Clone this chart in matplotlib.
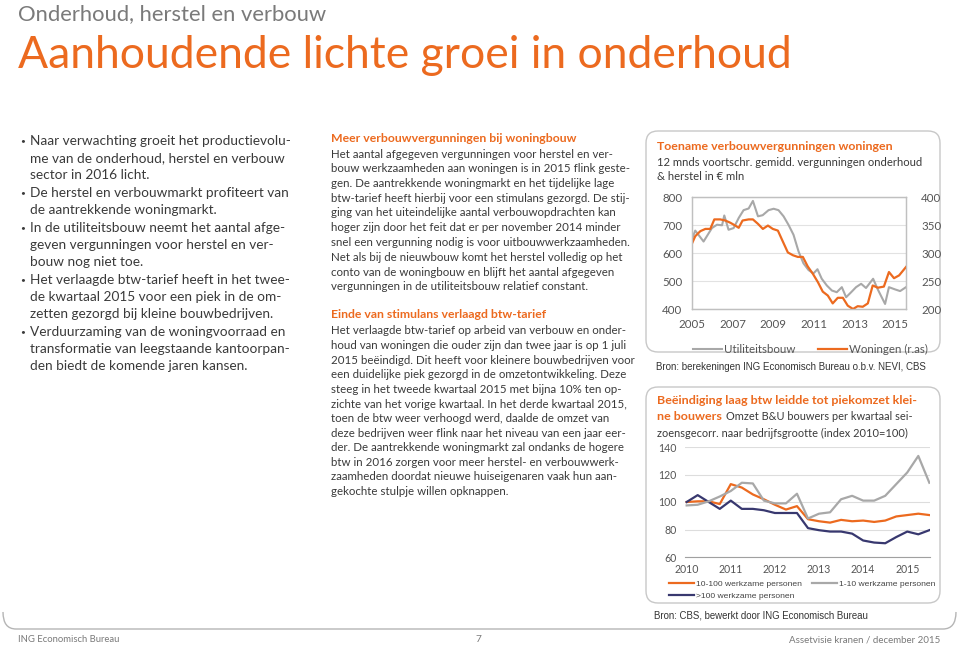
import matplotlib
matplotlib.use('Agg')
import matplotlib.pyplot as plt
from matplotlib.patches import FancyBboxPatch, PathPatch
from matplotlib.path import Path

W, H = 959, 645
ORANGE = '#EC6A1F'
GREY = '#A8A8A8'
NAVY = '#38386F'
TEXT = '#3a3a3a'

# chart 1: 12 mnds voortschr. gemidd. vergunningen (EUR mln)
util_years = [2005.00, 2005.16, 2005.57, 2005.98, 2006.23, 2006.48, 2006.59, 2006.80,
              2007.05, 2007.30, 2007.54, 2007.79, 2008.00, 2008.25, 2008.48, 2008.77,
              2009.02, 2009.26, 2009.51, 2009.75, 2010.00, 2010.25, 2010.49, 2010.74,
              2010.98, 2011.18, 2011.39, 2011.64, 2011.89, 2012.13, 2012.38, 2012.59,
              2012.84, 2013.08, 2013.33, 2013.57, 2013.92, 2014.15, 2014.51, 2014.70,
              2015.00, 2015.25, 2015.54]
util_vals = [650, 680, 641, 689, 701, 699, 734, 683, 689, 725, 753, 759, 786, 731, 735, 753,
             758, 753, 731, 701, 665, 605, 563, 539, 527, 542, 508, 484, 466, 460, 478, 442,
             460, 478, 490, 475, 508, 470, 418, 478, 470, 464, 478]
won_years = [2005.00, 2005.16, 2005.41, 2005.66, 2005.90, 2006.10, 2006.39, 2006.64,
             2006.89, 2007.13, 2007.30, 2007.49, 2007.79, 2008.00, 2008.25, 2008.49,
             2008.74, 2008.98, 2009.23, 2009.48, 2009.72, 2009.97, 2010.21, 2010.46,
             2010.70, 2010.95, 2011.20, 2011.44, 2011.69, 2011.93, 2012.18, 2012.43,
             2012.67, 2012.93, 2013.16, 2013.41, 2013.66, 2013.90, 2014.15, 2014.45,
             2014.70, 2014.95, 2015.20, 2015.54]
won_vals = [317, 330, 339, 343, 343, 360, 360, 358, 354, 349, 345, 358, 360, 360, 352, 343,
            349, 343, 340, 320, 301, 296, 293, 293, 276, 263, 248, 231, 224, 210, 220, 220,
            206, 200, 205, 204, 210, 242, 238, 240, 266, 255, 260, 275]

# chart 2: omzet per kwartaal, index 2010=100 (2010K1 .. 2015K3)
omzet_10_100 = [100, 100.5, 100.5, 98.5, 113, 110.5, 105.5, 102, 98, 94.5, 97, 87.5,
                86, 85, 87, 86, 86.5, 85.5, 86.5, 89.5, 90.5, 91.5, 90.5]
omzet_1_10 = [97.5, 98, 100.5, 104, 108, 114, 113.5, 101, 99, 99, 106, 88,
              91.5, 92.5, 102, 104.5, 101, 101, 104.5, 113, 121.5, 133.5, 114]
omzet_100plus = [100, 105, 100, 95, 101, 95, 95, 94, 92, 92, 92, 81,
                 79.5, 78.5, 78.5, 77, 72, 70.5, 70, 74.5, 78.5, 76.5, 79.5]
year_labels = ['2010', '2011', '2012', '2013', '2014', '2015']

bullets = [
    ["Naar verwachting groeit het productievolu-",
     "me van de onderhoud, herstel en verbouw",
     "sector in 2016 licht."],
    ["De herstel en verbouwmarkt profiteert van",
     "de aantrekkende woningmarkt."],
    ["In de utiliteitsbouw neemt het aantal afge-",
     "geven vergunningen voor herstel en ver-",
     "bouw nog niet toe."],
    ["Het verlaagde btw-tarief heeft in het twee-",
     "de kwartaal 2015 voor een piek in de om-",
     "zetten gezorgd bij kleine bouwbedrijven."],
    ["Verduurzaming van de woningvoorraad en",
     "transformatie van leegstaande kantoorpan-",
     "den biedt de komende jaren kansen."],
]
sec1_head = "Meer verbouwvergunningen bij woningbouw"
sec1_lines = [
    "Het aantal afgegeven vergunningen voor herstel en ver-",
    "bouw werkzaamheden aan woningen is in 2015 flink geste-",
    "gen. De aantrekkende woningmarkt en het tijdelijke lage",
    "btw-tarief heeft hierbij voor een stimulans gezorgd. De stij-",
    "ging van het uiteindelijke aantal verbouwopdrachten kan",
    "hoger zijn door het feit dat er per november 2014 minder",
    "snel een vergunning nodig is voor uitbouwwerkzaamheden.",
    "Net als bij de nieuwbouw komt het herstel volledig op het",
    "conto van de woningbouw en blijft het aantal afgegeven",
    "vergunningen in de utiliteitsbouw relatief constant.",
]
sec2_head = "Einde van stimulans verlaagd btw-tarief"
sec2_lines = [
    "Het verlaagde btw-tarief op arbeid van verbouw en onder-",
    "houd van woningen die ouder zijn dan twee jaar is op 1 juli",
    "2015 beëindigd. Dit heeft voor kleinere bouwbedrijven voor",
    "een duidelijke piek gezorgd in de omzetontwikkeling. Deze",
    "steeg in het tweede kwartaal 2015 met bijna 10% ten op-",
    "zichte van het vorige kwartaal. In het derde kwartaal 2015,",
    "toen de btw weer verhoogd werd, daalde de omzet van",
    "deze bedrijven weer flink naar het niveau van een jaar eer-",
    "der. De aantrekkende woningmarkt zal ondanks de hogere",
    "btw in 2016 zorgen voor meer herstel- en verbouwwerk-",
    "zaamheden doordat nieuwe huiseigenaren vaak hun aan-",
    "gekochte stulpje willen opknappen.",
]

plt.rcParams['font.family'] = ['Lato', 'DejaVu Sans']
fig = plt.figure(figsize=(W / 100, H / 100), dpi=100)
renderer = fig.canvas.get_renderer()


def fy(y):
    return 1 - y / H


def fit(s, width, weight='normal', family=None):
    # font size that makes string s about `width` pixels wide
    t = fig.text(0, 0, s, fontsize=10, fontweight=weight, family=family)
    w = t.get_window_extent(renderer).width
    t.remove()
    return 10 * width / w


def txt(x, y, s, size, color=TEXT, weight='normal', ha='left', family=None):
    return fig.text(x / W, fy(y), s, fontsize=size, color=color, fontweight=weight,
                    ha=ha, va='center', family=family)


# header
txt(18, 14, "Onderhoud, herstel en verbouw", fit("Onderhoud, herstel en verbouw", 309), color='#7a7a7a')
title = "Aanhoudende lichte groei in onderhoud"
txt(18, 55, title, fit(title, 777), color=ORANGE)

# left bullets
fs_left = fit(bullets[0][0], 261)
y = 141
for group in bullets:
    txt(20, y, "\u2022", fs_left * 0.6)
    for line in group:
        txt(30, y, line, fs_left)
        y += 17.1
    y += 0.6

# middle column
fs_mid = fit(sec1_lines[6], 301)
fs_head = fit(sec1_head, 247, weight='bold')
txt(331, 139, sec1_head, fs_head, color=ORANGE, weight='bold')
for i, line in enumerate(sec1_lines):
    txt(331, 154 + 14.75 * i, line, fs_mid)
txt(331, 315, sec2_head, fs_head, color=ORANGE, weight='bold')
for i, line in enumerate(sec2_lines):
    txt(331, 331 + 14.6 * i, line, fs_mid)

# boxes around charts (inches)
for top, bottom in [(131, 352), (387, 603)]:
    box = FancyBboxPatch((646 / 100, (H - bottom) / 100), 294 / 100, (bottom - top) / 100,
                         boxstyle='round,pad=0,rounding_size=0.12', transform=fig.dpi_scale_trans,
                         facecolor='white', edgecolor='#C8C8C8', linewidth=1.0, zorder=0)
    fig.add_artist(box)

# bottom frame line
verts = [(3, 612), (3, 629), (16, 629), (943, 629), (956, 629), (956, 612)]
codes = [Path.MOVETO, Path.CURVE3, Path.CURVE3, Path.LINETO, Path.CURVE3, Path.CURVE3]
path = Path([(x / 100, (H - yy) / 100) for x, yy in verts], codes)
fig.add_artist(PathPatch(path, transform=fig.dpi_scale_trans, facecolor='none',
                         edgecolor='#B5B5B5', linewidth=1.0))

# chart 1 texts
t1 = "Toename verbouwvergunningen woningen"
txt(657, 146, t1, fit(t1, 237, weight='bold'), color=ORANGE, weight='bold')
s1 = "12 mnds voortschr. gemidd. vergunningen onderhoud"
fs_sub = fit(s1, 265)
txt(657, 162, s1, fs_sub)
txt(657, 177, "& herstel in \u20ac mln", fs_sub)

ax = fig.add_axes([692 / W, fy(309), 214 / W, 112 / H])
ax.plot(util_years, util_vals, color=GREY, lw=1.5, label='Utiliteitsbouw')
ax.set_xlim(2005, 2015.54)
ax.set_ylim(400, 800)
ax.set_yticks([400, 500, 600, 700, 800])
ax.set_xticks([2005, 2007, 2009, 2011, 2013, 2015])
ax.grid(axis='y', color='#E2E2E2', lw=0.8)
ax.set_axisbelow(True)
ax2 = ax.twinx()
ax2.plot(won_years, won_vals, color=ORANGE, lw=1.6, label='Woningen (r.as)')
ax2.set_ylim(200, 400)
ax2.set_yticks([200, 250, 300, 350, 400])
for a in (ax, ax2):
    for sp in a.spines.values():
        sp.set_color('#C0C0C0')
        sp.set_linewidth(0.9)
    a.tick_params(length=0, labelsize=8.3, labelcolor='#555555')
ax.tick_params(axis='y', pad=7)
ax.tick_params(axis='x', pad=7)
ax2.tick_params(axis='y', pad=11)
h1, l1 = ax.get_legend_handles_labels()
h2, l2 = ax2.get_legend_handles_labels()
ax.legend(h1 + h2, l1 + l2, ncol=2, loc='center left', bbox_to_anchor=(-0.02, -0.36),
          frameon=False, fontsize=8.3, labelcolor='#555555', handlelength=2.5,
          handletextpad=0.15, columnspacing=2.0, borderpad=0)

txt(656, 367, "Bron: berekeningen ING Economisch Bureau o.b.v. NEVI, CBS",
    fit("Bron: berekeningen ING Economisch Bureau o.b.v. NEVI, CBS", 272, family='Liberation Sans'),
    color='#333333', family='Liberation Sans')

# chart 2 texts
b1 = "Beëindiging laag btw leidde tot piekomzet klei-"
fs_bt = fit(b1, 261, weight='bold')
txt(657, 401, b1, fs_bt, color=ORANGE, weight='bold')
tb = txt(657, 417, "ne bouwers", fs_bt, color=ORANGE, weight='bold')
bb = tb.get_window_extent(renderer)
s2 = "zoensgecorr. naar bedrijfsgrootte (index 2010=100)"
fs_sub2 = fit(s2, 250)
txt(bb.x1 + 4, 417, "Omzet B&U bouwers per kwartaal sei-", fs_sub2)
txt(657, 433, s2, fs_sub2)

bx = fig.add_axes([685 / W, fy(557), 245 / W, 110 / H])
qi = list(range(len(omzet_10_100)))
bx.plot(qi, omzet_10_100, color=ORANGE, lw=1.6, label='10-100 werkzame personen')
bx.plot(qi, omzet_100plus, color=NAVY, lw=1.6, label='>100 werkzame personen')
bx.plot(qi, omzet_1_10, color=GREY, lw=1.6, label='1-10 werkzame personen')
bx.set_xlim(-0.15, 22.06)
bx.set_ylim(60, 140)
bx.set_yticks([60, 80, 100, 120, 140])
bx.set_xticks(range(0, 24, 4))
bx.set_xticklabels(year_labels)
bx.grid(axis='y', color='#DDDDDD', lw=0.8)
bx.set_axisbelow(True)
for side in ['left', 'right', 'top']:
    bx.spines[side].set_visible(False)
bx.spines['bottom'].set_color('#A0A0A0')
bx.tick_params(length=0, labelsize=7.6, labelcolor='#555555')
bx.tick_params(axis='y', pad=6)
bx.tick_params(axis='x', pad=5)
bx.legend(ncol=2, loc='upper left', bbox_to_anchor=(-0.082, -0.17), frameon=False,
          prop={'family': 'Liberation Sans', 'size': 6.1}, labelcolor='#444444',
          handlelength=2.9, handletextpad=0.3, columnspacing=1.2, labelspacing=0.45,
          borderpad=0)

txt(654, 615, "Bron: CBS, bewerkt door ING Economisch Bureau",
    fit("Bron: CBS, bewerkt door ING Economisch Bureau", 217, family='Liberation Sans'),
    color='#333333', family='Liberation Sans')

# footer
txt(18, 640, "ING Economisch Bureau", fit("ING Economisch Bureau", 102), color='#7a7a7a')
txt(478, 640, "7", 7.3, color='#7a7a7a', ha='center')
txt(940, 640, "Assetvisie kranen / december 2015",
    fit("Assetvisie kranen / december 2015", 152), color='#7a7a7a', ha='right')

fig.savefig('out.png', dpi=100, facecolor='white')
